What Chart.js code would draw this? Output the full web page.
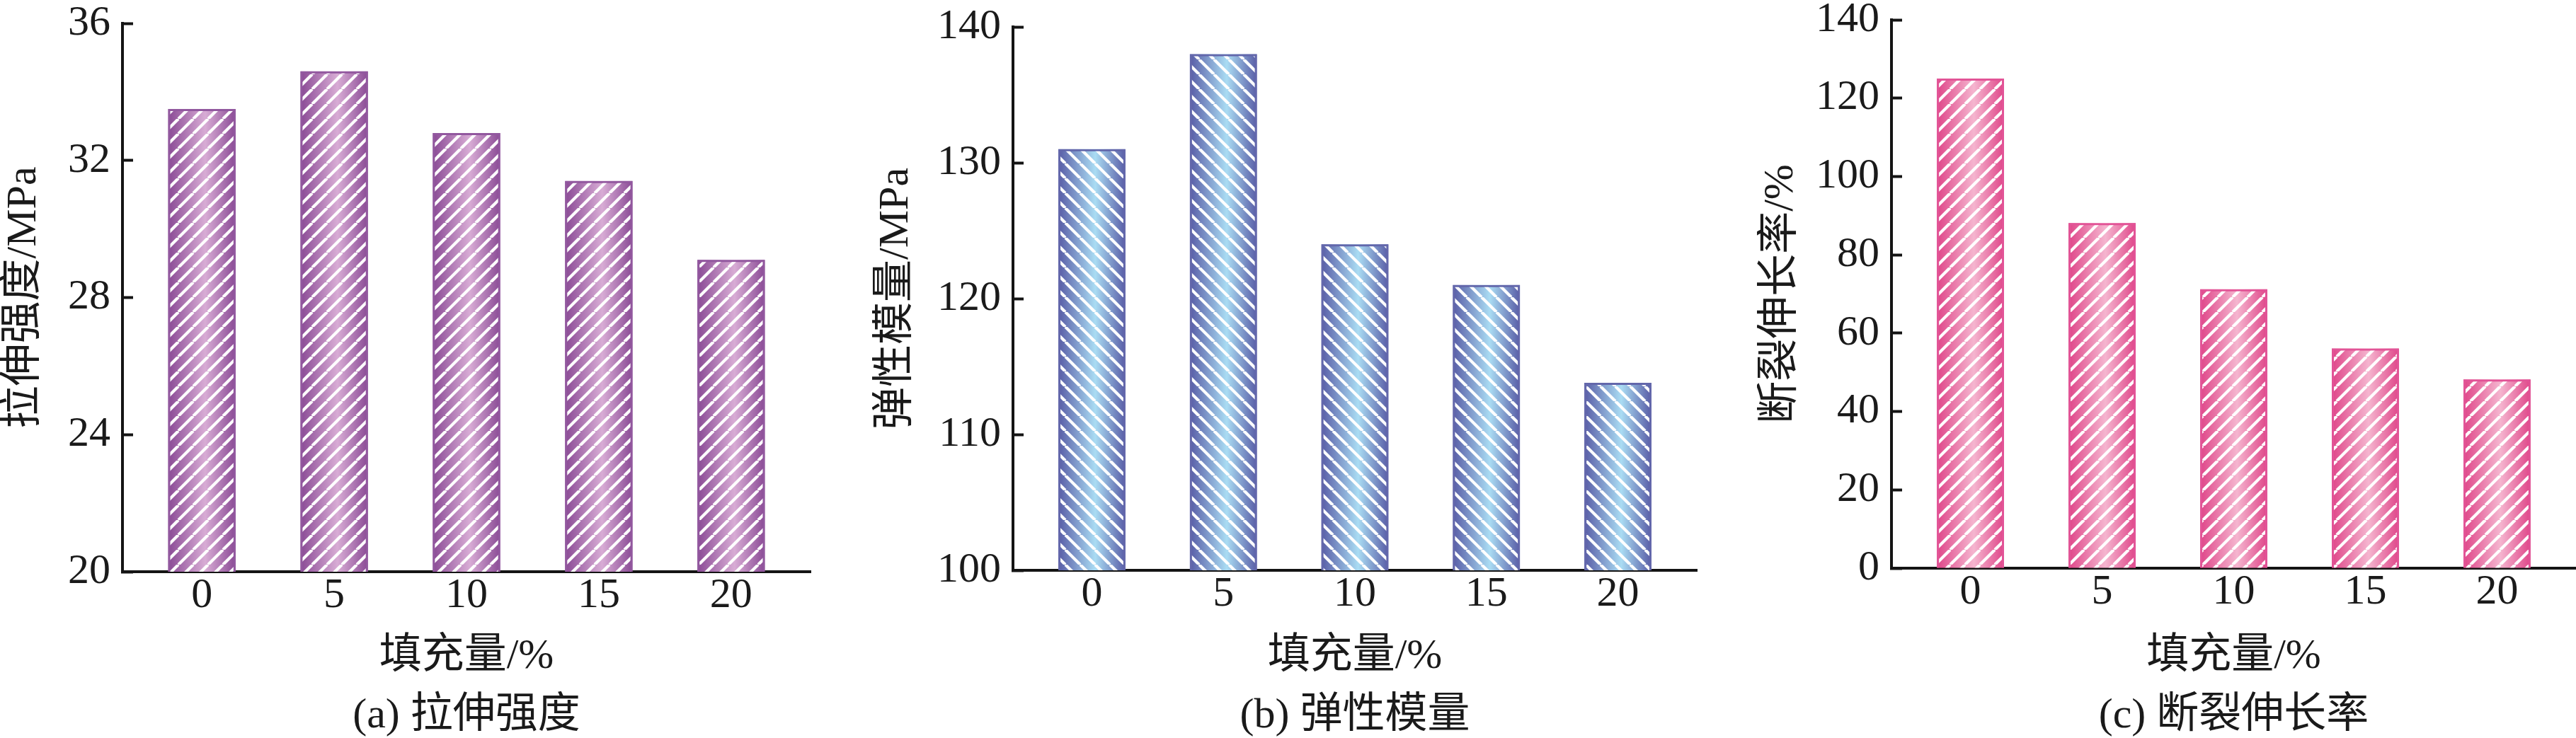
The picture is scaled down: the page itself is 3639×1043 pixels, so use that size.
<!DOCTYPE html>
<html lang="zh">
<head>
<meta charset="utf-8">
<title>填充量对力学性能的影响</title>
<script src="https://cdn.jsdelivr.net/npm/chart.js@4.4.1/dist/chart.umd.min.js"></script>
<style>
    html, body { margin: 0; padding: 0; background: #fff; }
    body { width: 3639px; height: 1043px; position: relative; overflow: hidden; }
    canvas { position: absolute; top: 0; }
</style>
</head>
<body>
<canvas id="chart-a" width="1159" height="1043" style="left:0px"></canvas>
<canvas id="chart-b" width="1188" height="1043" style="left:1232px"></canvas>
<canvas id="chart-c" width="1157" height="1043" style="left:2482px"></canvas>

<script>
// Fill amount (%) on the x axis, shared by all three panels
const fillAmounts = [0, 5, 10, 15, 20];

// (a) tensile strength, MPa
const tensileStrength = [33.5, 34.6, 32.8, 31.4, 29.1];
const tensileTicks = [20, 24, 28, 32, 36];

// (b) elastic modulus, MPa
const elasticModulus = [131, 138, 124, 121, 113.8];
const modulusTicks = [100, 110, 120, 130, 140];

// (c) elongation at break, %
const elongation = [125, 88.1, 71.2, 56.1, 48.2];
const elongationTicks = [0, 20, 40, 60, 80, 100, 120, 140];

const H = 1043;
const AXIS = '#141414';
const TEXT = '#1a1a1a';
const FONT = '"Liberation Serif", "Noto Sans CJK SC", serif';
const BAR_PCT = 0.51;

// White diagonal hatch, tiled; '/' or '\'
function stripePattern(dir) {
    const P = 21;
    const tile = document.createElement('canvas');
    tile.width = P;
    tile.height = P;
    const g = tile.getContext('2d');
    g.strokeStyle = '#ffffff';
    g.lineWidth = 4.2;
    g.beginPath();
    for (let k = -1; k <= 1; k++) {
        if (dir === '/') { g.moveTo(k * P, P); g.lineTo(k * P + P, 0); }
        else { g.moveTo(k * P, 0); g.lineTo(k * P + P, P); }
    }
    g.stroke();
    return g.createPattern(tile, 'repeat');
}

// Horizontal shading across each bar: dark edges, light middle
function barShade(edge, light) {
    return ctx => {
        const chart = ctx.chart;
        const xs = chart.scales.x;
        if (!xs || !ctx.parsed) return edge;
        const cx = xs.getPixelForValue(ctx.parsed.x);
        const step = xs.getPixelForValue(fillAmounts[1]) - xs.getPixelForValue(fillAmounts[0]);
        const half = step * BAR_PCT / 2;
        if (!isFinite(cx) || !isFinite(half) || half <= 0) return edge;
        const g = chart.ctx.createLinearGradient(cx - half, 0, cx + half, 0);
        g.addColorStop(0, edge);
        g.addColorStop(0.55, light);
        g.addColorStop(1, edge);
        return g;
    };
}

function buildPanel(id, p) {
    const canvas = document.getElementById(id);
    return new Chart(canvas, {
        type: 'bar',
        data: {
            labels: fillAmounts,
            datasets: [
                {   // hatch layer with outline (drawn on top)
                    data: p.values,
                    backgroundColor: stripePattern(p.dir),
                    borderColor: p.border,
                    borderWidth: 3,
                    borderSkipped: 'start',
                    grouped: false,
                    categoryPercentage: 1,
                    barPercentage: BAR_PCT
                },
                {   // shaded body underneath
                    data: p.values,
                    backgroundColor: barShade(p.edge, p.light),
                    borderWidth: 0,
                    grouped: false,
                    categoryPercentage: 1,
                    barPercentage: BAR_PCT
                }
            ]
        },
        options: {
            responsive: false,
            animation: false,
            events: [],
            layout: { padding: { top: p.area.top, right: p.area.right, bottom: 0, left: 0 } },
            plugins: {
                legend: { display: false },
                tooltip: { enabled: false },
                title: { display: false }
            },
            scales: {
                x: {
                    type: 'linear',
                    offset: false,
                    min: -3,
                    max: 23,
                    afterBuildTicks: s => { s.ticks = fillAmounts.map(v => ({ value: v })); },
                    afterFit: s => { s.height = H - p.area.bottom; s.paddingLeft = 0; s.paddingRight = 0; },
                    grid: { display: false, drawTicks: false },
                    border: { display: true, color: AXIS, width: 4 },
                    ticks: {
                        color: TEXT,
                        padding: 4,
                        maxRotation: 0,
                        font: { family: FONT, size: 60, lineHeight: 1.0 },
                        callback: v => String(v)
                    },
                    title: {
                        display: true,
                        text: ['填充量/%', p.caption],
                        color: TEXT,
                        font: { family: FONT, size: 60, lineHeight: 1.4 },
                        padding: { top: 0, bottom: -11 }
                    }
                },
                y: {
                    min: p.ticks[0],
                    max: p.ticks[p.ticks.length - 1],
                    afterBuildTicks: s => { s.ticks = p.ticks.map(v => ({ value: v })); },
                    afterFit: s => { s.width = p.area.left; s.paddingTop = 0; s.paddingBottom = 0; },
                    grid: {
                        display: true,
                        drawOnChartArea: false,
                        drawTicks: true,
                        tickLength: -15,
                        tickWidth: 4,
                        tickColor: AXIS
                    },
                    border: { display: true, color: AXIS, width: 4 },
                    ticks: {
                        color: TEXT,
                        padding: 32,
                        font: { family: FONT, size: 60, lineHeight: 1.0 },
                        callback: v => String(v)
                    },
                    title: {
                        display: true,
                        text: p.yTitle,
                        color: TEXT,
                        font: { family: FONT, size: 60, lineHeight: 1.0 },
                        padding: { top: 4, bottom: 0 }
                    }
                }
            }
        }
    });
}

buildPanel('chart-a', {
    values: tensileStrength,
    ticks: tensileTicks,
    yTitle: '拉伸强度/MPa',
    caption: '(a) 拉伸强度',
    edge: '#8a4a95', light: '#d8acd5', border: '#92589f', dir: '/',
    area: { top: 33, bottom: 808, left: 173, right: 14 }
});

buildPanel('chart-b', {
    values: elasticModulus,
    ticks: modulusTicks,
    yTitle: '弹性模量/MPa',
    caption: '(b) 弹性模量',
    edge: '#585ca6', light: '#aadcf3', border: '#6367ab', dir: '\\',
    area: { top: 38, bottom: 806, left: 199, right: 23 }
});

buildPanel('chart-c', {
    values: elongation,
    ticks: elongationTicks,
    yTitle: '断裂伸长率/%',
    caption: '(c) 断裂伸长率',
    edge: '#df4689', light: '#f5b5cf', border: '#e25497', dir: '/',
    area: { top: 28, bottom: 803, left: 190, right: 0 }
});
</script>
</body>
</html>
